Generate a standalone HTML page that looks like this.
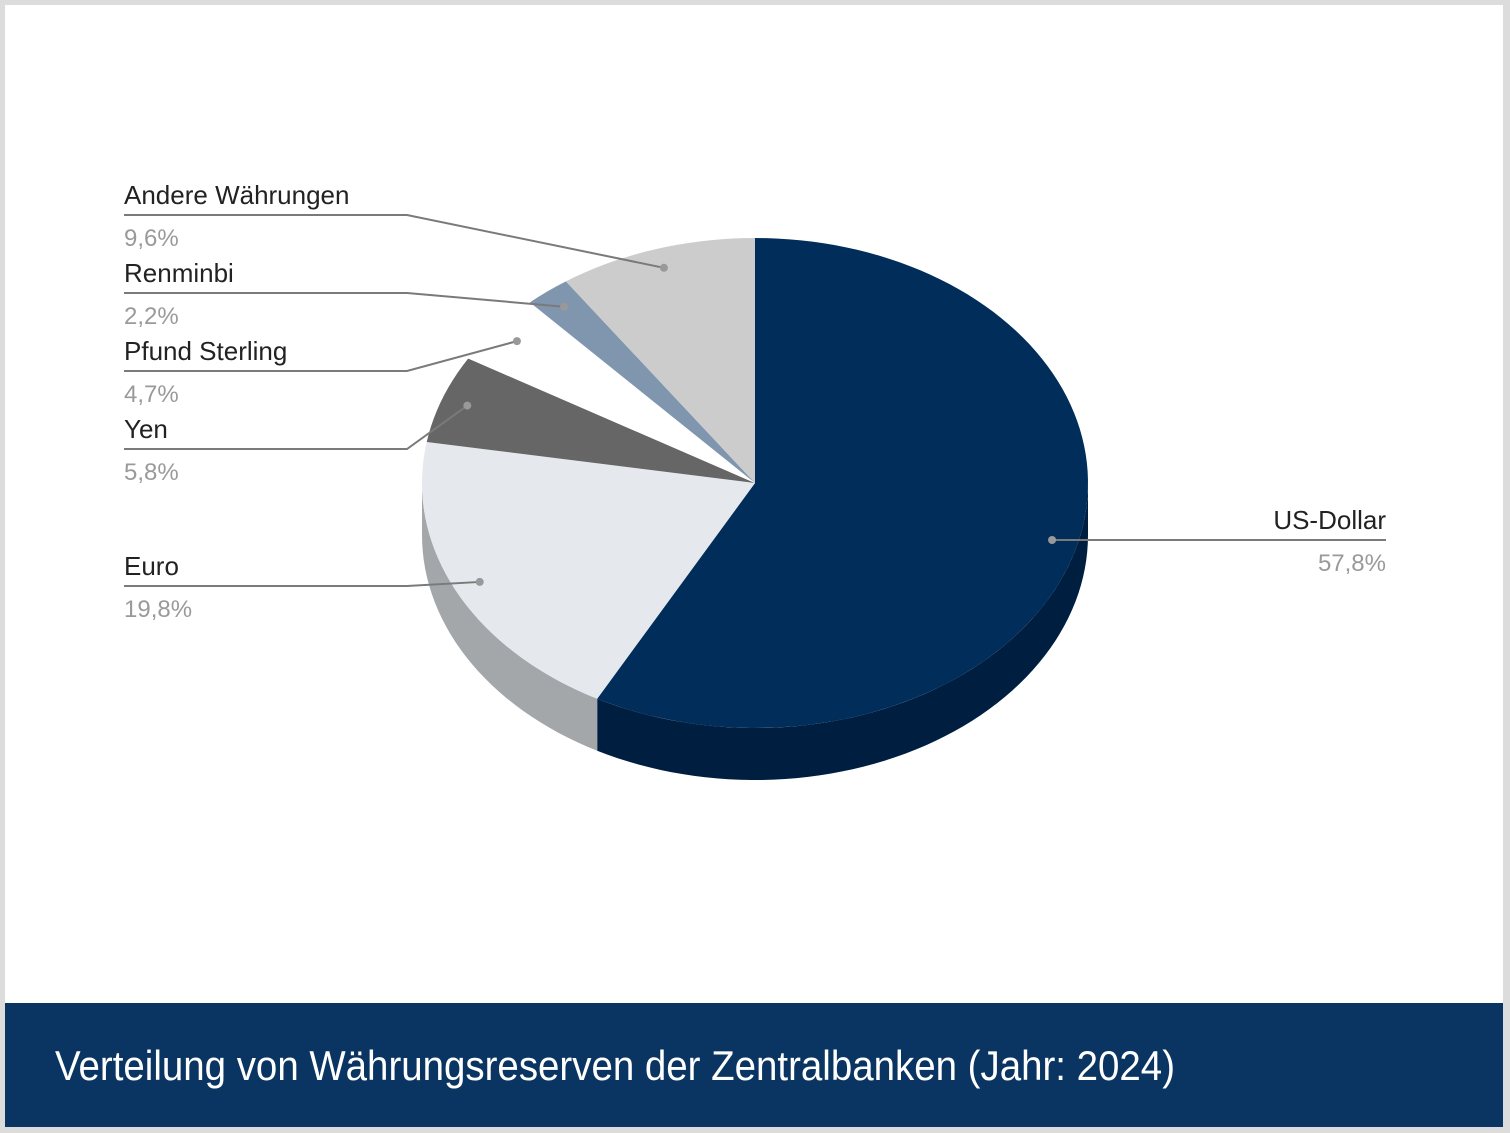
<!DOCTYPE html>
<html><head><meta charset="utf-8"><style>
html,body{margin:0;padding:0;background:#fff}
svg{display:block}
text{font-family:"Liberation Sans",sans-serif}
</style></head><body>
<svg id="chart" width="1510" height="1133" viewBox="0 0 1510 1133">
<rect x="0" y="0" width="1510" height="1133" fill="#dcdcdc"/>
<rect x="5" y="5" width="1498" height="998" fill="#ffffff"/>
<rect x="5" y="1003" width="1498" height="124" fill="#0a3562"/>
<text x="55" y="1080" fill="#ffffff" font-size="42" textLength="1120" lengthAdjust="spacingAndGlyphs">Verteilung von Währungsreserven der Zentralbanken (Jahr: 2024)</text>
<g id="sides"></g>
<g id="slices"></g>
<g id="labels"></g>
</svg>
<script>
const categories = ["US-Dollar","Euro","Yen","Pfund Sterling","Renminbi","Andere Währungen"];
const values = [57.8, 19.8, 5.8, 4.7, 2.2, 9.6];
const valueLabels = ["57,8%","19,8%","5,8%","4,7%","2,2%","9,6%"];
const colors = ["#002d5a","#e5e8ed","#666666","#ffffff","#7f96ae","#cccccc"];
const sideColors = ["#001f40","#a4a7aa","#444444","#dddddd","#5d7088","#999999"];
// label layout (name baseline y, underline y, side)
const labelY = [529, 575, 438, 360, 282, 204];
const labelRight = [true,false,false,false,false,false];

const NS="http://www.w3.org/2000/svg";
const cx=755, cy=483, rx=333, ry=245, depth=52;
const total=values.reduce((a,b)=>a+b,0);
function pt(deg,f=1,dy=0){const r=deg*Math.PI/180;return [cx+rx*f*Math.sin(r), cy-ry*f*Math.cos(r)+dy];}
function arc(a0,a1,dy){ // points along ellipse
  let s="";const n=Math.max(2,Math.ceil(Math.abs(a1-a0)/2));
  for(let i=0;i<=n;i++){const p=pt(a0+(a1-a0)*i/n,1,dy);s+=(i?"L":"")+p[0].toFixed(2)+","+p[1].toFixed(2);}
  return s;
}
const sides=document.getElementById('sides'), slices=document.getElementById('slices'), labels=document.getElementById('labels');
let acc=0;
const ranges=values.map(v=>{const a0=acc/total*360;acc+=v;return [a0,acc/total*360];});
ranges.forEach(([a0,a1],i)=>{
  const s0=Math.max(a0,90), s1=Math.min(a1,270);
  if(s1>s0){
    const p=document.createElementNS(NS,'path');
    const back=arc(s1,s0,depth);
    p.setAttribute('d',"M"+arc(s0,s1,0)+"L"+back+"Z");
    p.setAttribute('fill',sideColors[i]);
    
    
    sides.appendChild(p);
  }
});
ranges.forEach(([a0,a1],i)=>{
  const p=document.createElementNS(NS,'path');
  p.setAttribute('d',"M"+cx+","+cy+"L"+arc(a0,a1,0)+"Z");
  p.setAttribute('fill',colors[i]);
  
  
  slices.appendChild(p);
});
ranges.forEach(([a0,a1],i)=>{
  const mid=(a0+a1)/2, d=pt(mid,0.92);
  const y=labelY[i], uy=y+11;
  const g=document.createElementNS(NS,'g');
  
  
  const line=document.createElementNS(NS,'polyline');
  let pts;
  if(labelRight[i]) pts=`1386,${uy} ${d[0]},${uy}`;
  else pts=`124,${uy} 407,${uy} ${d[0]},${d[1]}`;
  line.setAttribute('points',pts);line.setAttribute('fill','none');line.setAttribute('stroke','#7a7a7a');line.setAttribute('stroke-width','2');
  
  
  g.appendChild(line);
  const dot=document.createElementNS(NS,'circle');
  dot.setAttribute('cx',d[0]);dot.setAttribute('cy',labelRight[i]?uy:d[1]);dot.setAttribute('r','4');dot.setAttribute('fill','#999');
  
  
  g.appendChild(dot);
  const t=document.createElementNS(NS,'text');
  t.textContent=categories[i];t.setAttribute('y',y);t.setAttribute('font-size','26');t.setAttribute('fill','#222');
  t.setAttribute('x',labelRight[i]?1386:124);if(labelRight[i])t.setAttribute('text-anchor','end');
  
  
  g.appendChild(t);
  const v=document.createElementNS(NS,'text');
  v.textContent=valueLabels[i];v.setAttribute('y',y+42);v.setAttribute('font-size','24');v.setAttribute('fill','#9a9a9a');
  v.setAttribute('x',labelRight[i]?1386:124);if(labelRight[i])v.setAttribute('text-anchor','end');
  
  
  g.appendChild(v);
  labels.appendChild(g);
});
</script>
</body></html>
